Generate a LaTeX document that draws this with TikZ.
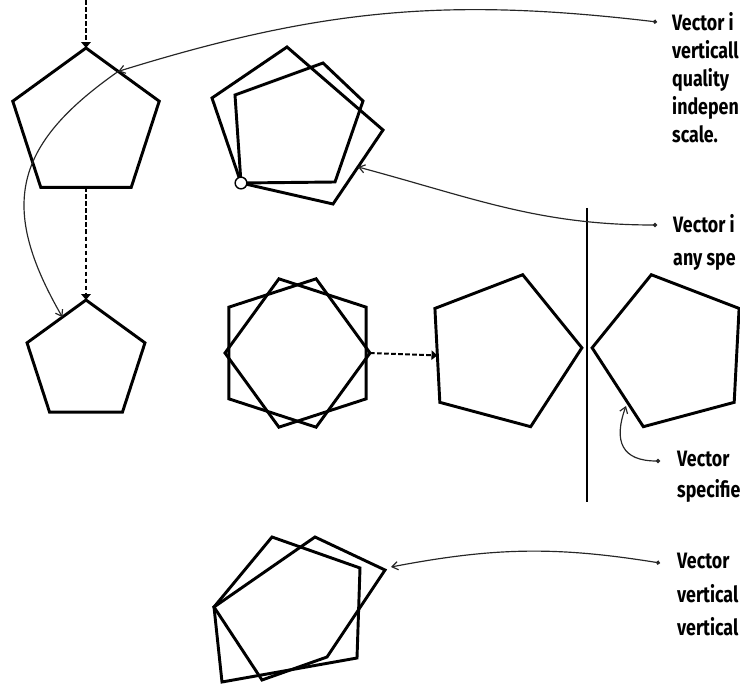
\documentclass[tikz,border=0pt]{standalone}
\usepackage{fontspec}
\setmainfont{Fira Sans}[FakeStretch=0.8]
\usetikzlibrary{positioning, arrows.meta, shapes.geometric, calc}

\begin{document}
\begin{tikzpicture}[
x=0.03cm, y=-0.03cm,
penta/.style={regular polygon, regular polygon sides=5, draw, line width=2.5pt, inner sep=0pt, outer sep=0pt},
outline/.style={line width=2.5pt},
flow/.style={-{Triangle[length=5pt,width=8pt]}, line width=1.7pt, dash pattern=on 4pt off 2pt},
call/.style={{Circle[length=3.5pt]}-{Straight Barb[length=5pt,width=7pt]}, line width=1pt, draw=black!85},
note/.style={anchor=north west, inner sep=0pt, align=left, font=\fontsize{19pt}{#1}\selectfont\bfseries}
]
\useasboundingbox (0,0) rectangle (740,683);
\clip (0,0) rectangle (740,683);

% left column
\node[penta, minimum size=4.62cm] (big) at (86,125) {};
\node[penta, minimum size=3.72cm] (small) at (86,362) {};
\coordinate (feed) at (86,0);
\draw[flow] (feed) -- (big.corner 1);
\draw[flow] (big.side 3) -- (small.corner 1);

% rotated pair
\coordinate (A1) at (287,47);
\coordinate (A2) at (383,130);
\coordinate (A3) at (333,204);
\coordinate (A4) at (241,183);
\coordinate (A5) at (212,98);
\coordinate (B1) at (323,63);
\coordinate (B2) at (363,101);
\coordinate (B3) at (335,182);
\coordinate (B5) at (235,95);
\draw[outline] (A1) -- (A2) -- (A3) -- (A4) -- (A5) -- cycle;
\draw[outline] (B1) -- (B2) -- (B3) -- (A4) -- (B5) -- cycle;
\draw[line width=1.2pt, fill=white] (A4) circle[radius=5pt];

% flipped pair and its result
\node[penta, minimum size=4.68cm, shape border rotate=90] (midL) at (303,353) {};
\node[penta, minimum size=4.68cm, shape border rotate=-90] (midR) at (292,353) {};
\node[penta, minimum size=4.8cm, shape border rotate=-87] (result) at (502,352) {};
\draw[flow] (midR.corner 1) -- (result.side 3);

% mirror
\coordinate (axisT) at (587,208);
\coordinate (axisB) at (587,502);
\draw[line width=1.3pt] (axisT) -- (axisB);
\node[penta, minimum size=4.8cm, shape border rotate=87] (mirror) at (672,352) {};

% skewed pair
\coordinate (Q1) at (272,537);
\coordinate (Q2) at (360,568);
\coordinate (Q3) at (357,658);
\coordinate (Q4) at (222,682);
\coordinate (Q5) at (214,607);
\coordinate (S1) at (315,537);
\coordinate (S2) at (385,570);
\coordinate (S3) at (327,657);
\coordinate (S4) at (262,680);
\draw[outline] (Q1) -- (Q2) -- (Q3) -- (Q4) -- (Q5) -- cycle;
\draw[outline] (S1) -- (S2) -- (S3) -- (S4) -- (Q5) -- cycle;

% notes
\node[note=24pt] (noteA) at (672,12) {Vector i\\verticall\\quality\\indepen\\scale.};
\node[note=28pt] (noteB) at (673,214) {Vector i\\any spe};
\node[note=26pt] (noteC) at (677,451) {Vector\\specifie};
\node[note=28.5pt] (noteD) at (677,553) {Vector\\vertical\\vertical};

\coordinate (dotA) at (657,22);
\coordinate (dotB) at (657,225);
\coordinate (dotC) at (660,461);
\coordinate (dotD) at (660,563);
\coordinate (hitA) at ($(big.corner 1)!0.44!(big.corner 5)$);
\coordinate (hitB) at ($(A2)!0.5!(A3)$);
\coordinate (hitC) at (626,406);
\coordinate (hitD) at (391,567);
\coordinate (hitE) at ($(small.corner 1)!0.4!(small.corner 2)$);

\draw[call] (dotA) to[bend right=12] (hitA);
\draw[-{Straight Barb[length=5pt,width=7pt]}, line width=1pt, draw=black!85] (hitA) to[out=215, in=120, looseness=1.3] (hitE);
\draw[call] (dotB) to[out=180, in=-15] (hitB);
\draw[call] (dotC) to[out=180, in=-110, looseness=1.5] (hitC);
\draw[call] (dotD) to[bend right=10] (hitD);

\end{tikzpicture}
\end{document}
